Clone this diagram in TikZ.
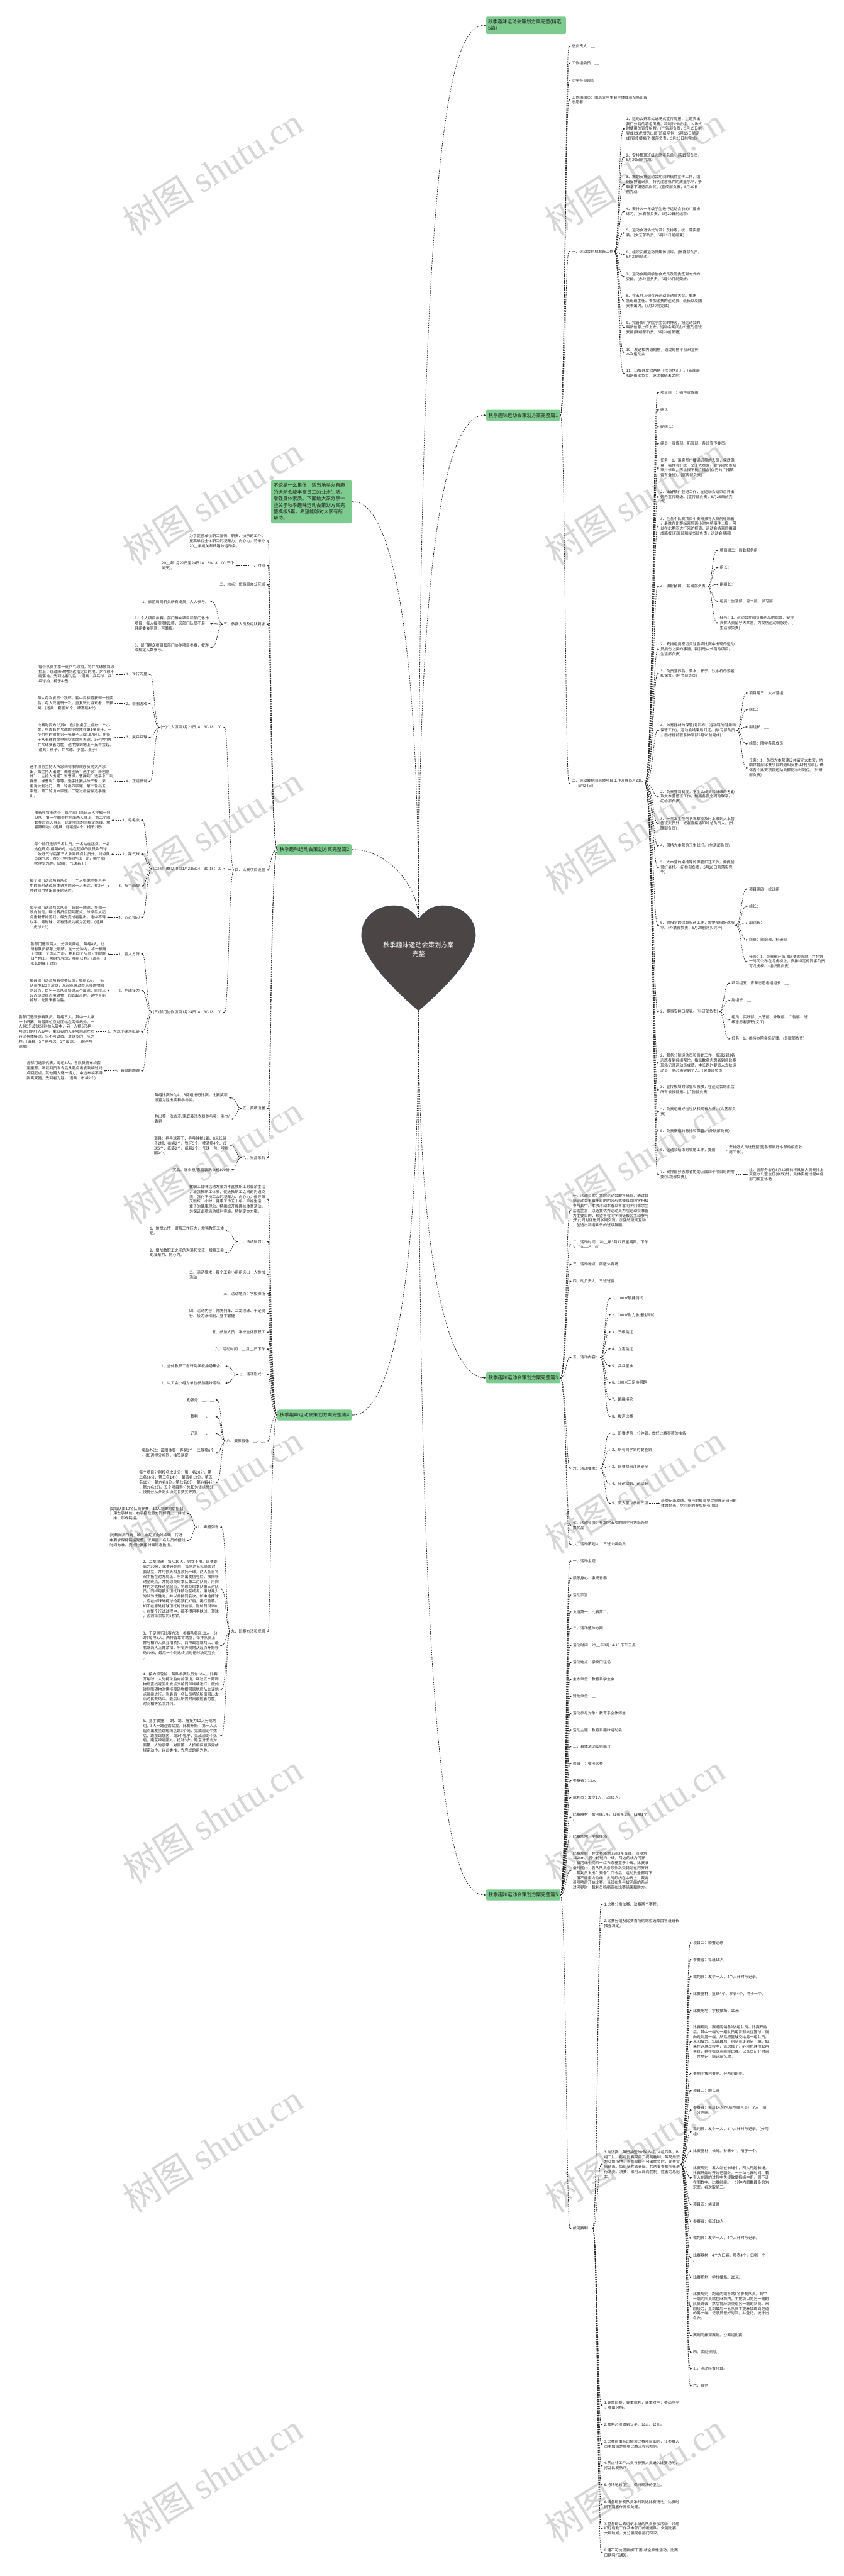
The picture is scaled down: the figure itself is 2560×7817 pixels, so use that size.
\documentclass[tikz,border=0pt]{standalone}
\usepackage{fontspec}
\setmainfont{Noto Sans CJK SC}
\newfontfamily\wmfont{Liberation Serif}
\usetikzlibrary{arrows.meta}
\definecolor{gfill}{HTML}{7DCB8F}
\definecolor{lc}{HTML}{2A2A2A}
\definecolor{heartc}{HTML}{4B4546}
\definecolor{heartl}{HTML}{3A4F7A}
\tikzset{
 txt/.style={font=\fontsize{11.5}{14.9}\selectfont, text=black!85, align=left, inner xsep=3pt, inner ysep=1pt},
 rt/.style={txt, anchor=west},
 lt/.style={txt, anchor=east},
 gbox/.style={fill=gfill, rounded corners=4pt, font=\fontsize{14.5}{19}\selectfont, text=black!88, inner xsep=7pt, inner ysep=3pt, minimum height=33pt},
 conn/.style={draw=lc, line width=1.5pt, dash pattern=on 4pt off 3pt, -{Latex[length=6pt,width=5pt]}},
 wm/.style={rotate=32, text=black!16, font=\fontsize{110}{110}\selectfont},
}
\newcommand\RCon[3]{\draw[conn] (#1.east) .. controls (#1.east -| #3,0) and (#2.west -| #3,0) .. (#2.west);}
\newcommand\LCon[3]{\draw[conn] (#1.west) .. controls (#1.west -| #3,0) and (#2.east -| #3,0) .. (#2.east);}
\begin{document}
\begin{tikzpicture}[x=1pt,y=-1pt]
\fill[white] (0,0) rectangle (2560,7817);
\useasboundingbox (0,0) rectangle (2560,7817);
% watermarks
\foreach \yy in {520,1520,...,7520}{
 \node[wm] at (645,\yy) {树图 {\wmfont shutu.cn}};
 \node[wm] at (1926,\yy) {树图 {\wmfont shutu.cn}};
}
% heart
\filldraw[fill=heartc, draw=heartl, line width=0.8pt] (1270,2790) .. controls (1255,2770) and (1235,2748) .. (1196,2748) .. controls (1140,2748) and (1097,2785) .. (1097,2838) .. controls (1097,2900) and (1180,2990) .. (1270,3067) .. controls (1360,2990) and (1443,2900) .. (1443,2838) .. controls (1443,2785) and (1400,2748) .. (1344,2748) .. controls (1305,2748) and (1285,2770) .. (1270,2790) -- cycle;
\node[font=\fontsize{19.5}{26}\selectfont, text=white, align=center] (center) at (1270,2881) {秋季趣味运动会策划方案\\完整};
\coordinate (htop) at (1270,2788);
\coordinate (hbot) at (1270,3067);

% main green nodes
\node[gbox, anchor=north west, text width=230pt, align=left, minimum height=53pt, inner xsep=6pt] (title) at (1475,50) {秋季趣味运动会策划方案完整(精选\\5篇)};
\node[gbox, anchor=west] (p1) at (1475,1260) {秋季趣味运动会策划方案完整篇1};
\node[gbox, anchor=north east, text width=230pt, align=left, minimum height=131pt, inner xsep=7pt, font=\fontsize{14.5}{19.9}\selectfont] (desc) at (1067,1457) {不论是什么集体，适当地举办有趣\\的运动会能丰富员工的业余生活，\\增强身体素质。下面给大家分享一\\些关于秋季趣味运动会策划方案完\\整模板5篇，希望能够对大家有所\\帮助。};
\node[gbox, anchor=east] (p2) at (1067,2578) {秋季趣味运动会策划方案完整篇2};
\node[gbox, anchor=west] (p3) at (1475,4181) {秋季趣味运动会策划方案完整篇3};
\node[gbox, anchor=east] (p4) at (1067,4294) {秋季趣味运动会策划方案完整篇4};
\node[gbox, anchor=west] (p5) at (1475,5750) {秋季趣味运动会策划方案完整篇5};

\draw[conn] (htop) .. controls (1270,377) and (1370,77) .. (title.west);
\draw[conn] (htop) .. controls (1270,1560) and (1370,1260) .. (p1.west);
\draw[conn] (htop) .. controls (1270,1821) and (1170,1521) .. (desc.east);
\draw[conn] (htop) .. controls (1270,2683) and (1170,2578) .. (p2.east);
\draw[conn] (hbot) .. controls (1270,3880) and (1370,4181) .. (p3.west);
\draw[conn] (hbot) .. controls (1270,3994) and (1170,4294) .. (p4.east);
\draw[conn] (hbot) .. controls (1270,5450) and (1370,5750) .. (p5.west);

% ===== 篇1 =====
\node[rt] (a1) at (1732,141) {总负责人：\_\_};
\node[rt] (a2) at (1732,192) {工作组委员：\_\_};
\node[rt] (a3) at (1732,244) {团学各部部长};
\node[rt] (a4) at (1732,303) {工作组组员：团总支学生会全体成员及各班级\\志愿者};
\node[rt] (a5) at (1732,763) {一、运动会前期准备工作};
\node[rt] (a6) at (1732,2377) {二、运动会期间具体项目工作开展(5月23日\\——5月24日)};
\foreach \c in {a1,a2,a3,a4,a5,a6}{\RCon{p1}{\c}{1715}}

\node[rt] (b1) at (1897,391) {1、运动会开幕式进场式宣传海报，主题突出\\我们分院的特色风格。和制作卡纸组，入场式\\时使用的宣传抬牌。(广告部负责，5月15日前\\完成)龙虎榜的出版(班级承包，5月15日前完\\成)宣传横幅(外联部负责，5月20日前完成)};
\node[rt] (b2) at (1897,479) {2、安排整理班级志愿者名单。(实践部负责，\\5月20日前完成)};
\node[rt] (b3) at (1897,560) {3、策划安排运动会期间的稿件宣传工作，组\\织安排通讯员，特别注意稿件的质量水平，争\\取拿下道德风尚奖。(宣传部负责，5月20日\\前完成)};
\node[rt] (b4) at (1897,642) {4、安排大一年级学生进行运动会前的广播操\\练习。(体育部负责，5月20日前结束)};
\node[rt] (b5) at (1897,707) {5、运动会进场式的设计及排练，统一落实服\\装。(文艺部负责，5月22日前结束)};
\node[rt] (b6) at (1897,773) {6、组织安排运动员集体训练。(体育部负责，\\5月22前结束)};
\node[rt] (b7) at (1897,840) {7、运动会期间学生会成员及班委签到方式的\\安排。(办公室负责，5月20日前完成)};
\node[rt] (b8) at (1897,913) {8、在五月上旬召开运动员动员大会。要求：\\各班班主任、参加比赛的运动员、班长以及团\\支书出席。(5月20前完成)};
\node[rt] (b9) at (1897,994) {9、完善我们学院学生会的博客，把运动会的\\最新信息上传上去，运动会期间办公室的值班\\安排(网络部负责，5月20前部署)};
\node[rt] (b10) at (1897,1068) {10、发送校内通短信，通过短信平台来宣传\\本次运动会};
\node[rt] (b11) at (1897,1133) {11、出版并发放两期《校运快讯》，(新闻部\\和网络部负责，运动会结束之前)};
\foreach \c in {b1,b2,b3,b4,b5,b6,b7,b8,b9,b10,b11}{\RCon{a5}{\c}{1878}}

\node[rt] (c1) at (2001,1192) {项目组一：稿件宣传组};
\node[rt] (c2) at (2001,1244) {组长：\_\_};
\node[rt] (c3) at (2001,1294) {副组长：\_\_};
\node[rt] (c4) at (2001,1346) {组员：宣传部、新闻部、各班宣传委员。};
\node[rt] (c5) at (2001,1420) {任务：1、落实写广播通讯稿的人员，保质保\\量，稿件写好统一交于大本营，宣传部负责初\\审并修改，再上报学校广播台(优秀的广播稿\\留有备份)。(宣传部负责)};
\node[rt] (c6) at (2001,1508) {2、做好稿件登记工作，在运动会结束后评出\\优秀宣传班级。(宣传部负责，5月25日前完\\成)};
\node[rt] (c7) at (2001,1597) {3、在各个比赛项目中安排报导人员前往观看\\，最晚在比赛结束后两小时内将稿件上报，可\\以在此期间进行采访报道，运动会结束后编辑\\成简报(新闻部和秘书部负责，运动会期间)};
\node[rt] (c8) at (2001,1780) {4、摄影拍照。(新闻部负责)};
\node[rt] (c9) at (2001,1971) {2、安排组员密切关注各项比赛中出现的运动\\员损伤之类的事情，特别是中长跑的项目。(\\生活部负责)};
\node[rt] (c10) at (2001,2044) {3、负责营养品、茶水、杯子、饮水机的添置\\和保管。(秘书部负责)};
\node[rt] (c11) at (2001,2217) {4、体育器材的保管(号码布、运动鞋的借用和\\保管工作)，运动会结束后归还。(学习部负责\\，器材提前联系体军部5月20前完成)};
\node[rt] (c12) at (2001,2418) {2、负责签到制度，学生会成员和班级的考勤\\及大本营值班工作，加强各部之间的联系。(\\纪检部负责)};
\node[rt] (c13) at (2001,2500) {3、一旦发生任何状况都应及时上报到大本营\\值班人员处，或者直接通知给总负责人。(外\\联部负责)};
\node[rt] (c14) at (2001,2566) {4、保持大本营的卫生状况。(生活部负责)};
\node[rt] (c15) at (2001,2632) {5、大本营的桌椅等的保管归还工作，需提前\\借好桌椅。(纪检部负责，5月20日前落实完\\毕)};
\node[rt] (c16) at (2001,2808) {6、遮阳伞的保管归还工作，需提前借好遮阳\\伞。(外联部负责，5月20前落实完毕)};
\node[rt] (c17) at (2001,3069) {2、赛事安排日程表。(科研部负责)};
\node[rt] (c18) at (2001,3226) {2、服务分院运动员和后勤工作，指派2到3名\\志愿者到各组帮忙，指派数名志愿者到各比赛\\现场记录运动员成绩，中长跑时要派人去扶运\\动员，务必落实到个人。(实践部负责)};
\node[rt] (c19) at (2001,3307) {3、宣传板块的保管和搬放，在运动会结束后\\所有板报部搬。(广告部负责)};
\node[rt] (c20) at (2001,3373) {4、负责组织好啦啦队和观看人员。(文艺部负\\责)};
\node[rt] (c21) at (2001,3432) {5、负责横幅的悬挂和保管。(外联部负责)};
\node[rt] (c22) at (2001,3490) {6、运动会结束的收尾工作，提前};
\node[rt] (c23) at (2001,3564) {7、安排部分志愿者协助上面四个项目组的需\\要(实践部负责)。};
\foreach \c in {c1,c2,c3,c4,c5,c6,c7,c8,c9,c10,c11,c12,c13,c14,c15,c16,c17,c18,c19,c20,c21,c22,c23}{\RCon{a6}{\c}{1982}}

\node[rt] (d1) at (2181,1670) {项目组二：后勤服务组};
\node[rt] (d2) at (2181,1722) {组长：\_\_};
\node[rt] (d3) at (2181,1773) {副组长：\_\_};
\node[rt] (d4) at (2181,1824) {组员：生活部、秘书部、学习部};
\node[rt] (d5) at (2181,1890) {任务：1、运动会期间负责药品的保管，安排\\具体人员留守大本营，为受伤运动员服务。(\\生活部负责)};
\foreach \c in {d1,d2,d3,d4,d5}{\RCon{c8}{\c}{2161}}

\node[rt] (e1) at (2270,2103) {项目组三：大本营组};
\node[rt] (e2) at (2270,2154) {组长：\_\_};
\node[rt] (e3) at (2270,2206) {副组长：\_\_};
\node[rt] (e4) at (2270,2257) {组员：团学各部成员};
\node[rt] (e5) at (2270,2330) {任务：1、负责大本营建设并留守大本营，协\\助体育部比赛项目的通知安排工作(检录)，确\\保各个比赛项目运动员都能准时到位。(科研\\部负责)};
\foreach \c in {e1,e2,e3,e4,e5}{\RCon{c11}{\c}{2250}}

\node[rt] (f1) at (2270,2698) {项目组四：统计组};
\node[rt] (f2) at (2270,2750) {组长：\_\_};
\node[rt] (f3) at (2270,2801) {副组长：\_\_};
\node[rt] (f4) at (2270,2852) {组员：组织部、科研部};
\node[rt] (f5) at (2270,2918) {任务：1、负责统计每项比赛的结果，并在第\\一时间公布在龙虎榜上，安排特定的同学负责\\写龙虎榜。(组织部负责)};
\foreach \c in {f1,f2,f3,f4,f5}{\RCon{c16}{\c}{2250}}

\node[rt] (g1) at (2217,2984) {项目组五：青年志愿者组组长：\_\_};
\node[rt] (g2) at (2217,3036) {副组长：\_\_};
\node[rt] (g3) at (2217,3094) {组员：实践部、文艺部、外联部、广告部、班\\级志愿者(阳光义工)};
\node[rt] (g4) at (2217,3152) {任务：1、维持本院会场纪律。(外联部负责)};
\foreach \c in {g1,g2,g3,g4}{\RCon{c17}{\c}{2197}}

\node[rt] (h1) at (2209,3490) {安排好人员进行整理(各部做好本部的相应收\\尾工作)。};
\RCon{c22}{h1}{2190}
\node[rt] (h2) at (2270,3564) {注：各部务必在5月20日前将具体人员安排上\\交至办公室主任(余欣)处，具体实施过程中各\\部门相互协助};
\RCon{c23}{h2}{2252}

% ===== 篇3 =====
\node[rt] (i1) at (1735,3674) {一、活动目的：本院运动会即将来临，通过趣\\味运动会丰富多彩的内容形式使每位同学积极\\参与其中。本次活动本着以丰富同学们课余生\\活的主旨，以选拔优秀运动员为院运动会准备\\为主要目的，希望各位同学积极报名主动参与\\;于此同时促进同学间交流，加强班级间互动\\，创造出和谐欢乐的班级氛围。};
\node[rt] (i2) at (1735,3777) {二、活动时间：20\_\_年3月17日星期四，下午\\3：00——5：00};
\node[rt] (i3) at (1735,3837) {三、活动地点：西区体育场};
\node[rt] (i4) at (1735,3888) {四、动负责人：三班班委};
\node[rt] (i5) at (1735,4119) {五、活动内容：};
\node[rt] (i6) at (1735,4456) {六、活动要求：};
\node[rt] (i7) at (1735,4628) {七、活动奖项：参加完五项的同学可凭纸条兑\\换奖品};
\node[rt] (i8) at (1735,4686) {八、活动策划人：三班文娱委员};
\foreach \c in {i1,i2,i3,i4,i5,i6,i7,i8}{\RCon{p3}{\c}{1718}}

\node[rt] (j1) at (1854,3940) {1、100米敏捷测试};
\node[rt] (j2) at (1854,3990) {2、200米耐力敏捷性测试};
\node[rt] (j3) at (1854,4042) {3、三级跳远};
\node[rt] (j4) at (1854,4093) {4、立定跳远};
\node[rt] (j5) at (1854,4145) {5、乒乓至准};
\node[rt] (j6) at (1854,4196) {6、100米三足协同跑};
\node[rt] (j7) at (1854,4247) {7、跳绳接轮};
\node[rt] (j8) at (1854,4298) {8、拔河比赛};
\foreach \c in {j1,j2,j3,j4,j5,j6,j7,j8}{\RCon{i5}{\c}{1836}}

\node[rt] (k1) at (1854,4349) {1、班委提前十分钟到，做好比赛事项的准备};
\node[rt] (k2) at (1854,4400) {2、所有同学到时要签到};
\node[rt] (k3) at (1854,4451) {3、比赛期间注意安全};
\node[rt] (k4) at (1854,4503) {4、穿运动衣、运动鞋};
\node[rt] (k5) at (1854,4562) {5、没人至少参加三项};
\foreach \c in {k1,k2,k3,k4,k5}{\RCon{i6}{\c}{1836}}
\node[rt] (k6) at (2003,4562) {班委记录成绩，参与的成员要尽量展示自己的\\体育特长，尽可能的参加所有项目};
\RCon{k5}{k6}{1985}

% ===== 篇5 =====
\node[rt] (m1) at (1735,4737) {一，活动主题};
\node[rt] (m2) at (1735,4789) {娱乐身心、激扬青春};
\node[rt] (m3) at (1735,4840) {活动宗旨};
\node[rt] (m4) at (1735,4891) {友谊第一，比赛第二。};
\node[rt] (m5) at (1735,4942) {二，活动整体方案};
\node[rt] (m6) at (1735,4994) {活动时间：20\_\_年3月14-15.下午五点};
\node[rt] (m7) at (1735,5045) {活动地点：学校田径场};
\node[rt] (m8) at (1735,5096) {主办单位：教育系学生会};
\node[rt] (m9) at (1735,5148) {赞助单位：\_\_};
\node[rt] (m10) at (1735,5199) {活动参与对象：教育系全体师生};
\node[rt] (m11) at (1735,5250) {活动主题：教育系趣味运动会};
\node[rt] (m12) at (1735,5301) {三，具体活动细则简介};
\node[rt] (m13) at (1735,5352) {项目一：拔河大赛};
\node[rt] (m14) at (1735,5404) {参赛者：15人};
\node[rt] (m15) at (1735,5455) {裁判员：发令1人，记录1人。};
\node[rt] (m16) at (1735,5514) {比赛器材：拔河绳1条，红布条1条，口哨1个\\。};
\node[rt] (m17) at (1735,5572) {比赛场地：学校操场};
\node[rt] (m18) at (1735,5676) {比赛规则：在比赛场地上画3条直线，间隔为\\150cm。居中的线为中线，两边的线为河界\\，拔河绳中间系一红布条垂直于中线。比赛准\\备时间内，各队队员必须依次交错站在河界外\\，裁判员发出"预备"口令后，运动员全部蹲下\\，但不能用力拉绳，此时红线在中线上，裁判\\员鸣哨后开始比赛。当红布条与拔河绳的系点\\过河界时，裁判员鸣哨宣布比赛结束和胜方。};
\node[rt] (m19) at (1735,6762) {拔河赛制：};
\foreach \c in {m1,m2,m3,m4,m5,m6,m7,m8,m9,m10,m11,m12,m13,m14,m15,m16,m17,m18,m19}{\RCon{p5}{\c}{1718}}

\node[rt] (n1) at (1830,5779) {1.比赛分淘汰赛、决赛两个赛程。};
\node[rt] (n2) at (1830,5837) {2.比赛分组及比赛首场的站位选择由各班班长\\抽签决定。};
\node[rt] (n3) at (1830,6568) {3.淘汰赛：每班抽签分成A.B组，A组四队，B\\组三队。每组比赛采用三局两胜制，每局后双\\方交换场地。当两局即可分出胜负时，比赛宣\\告结束。每组获胜者晋级。共两支参赛队伍进\\行决赛。决赛：采用三局两胜制，胜者为总冠\\军。};
\node[rt] (n4) at (1830,7298) {1.尊重比赛，尊重裁判，尊重对手，赛出水平\\，赛出风格。};
\node[rt] (n5) at (1830,7357) {2.裁判必须做到公平、公正、公开。};
\node[rt] (n6) at (1830,7416) {3.比赛前由各班解读比赛项目细则，让参赛人\\员更加清楚各项比赛流程和规则。};
\node[rt] (n7) at (1830,7482) {4.禁止非工作人员与参赛人员进入比赛场地，\\打乱比赛秩序。};
\node[rt] (n8) at (1830,7540) {5.持场地的卫生，保持现场的卫生。};
\node[rt] (n9) at (1830,7599) {6.请各班参赛队员准时到达比赛场地，比赛时\\间不到者作弃权处理。};
\node[rt] (n10) at (1830,7673) {7.望各班认真组织本班的队员参加活动，并组\\织好后勤工作及本部门的啦啦队。文明比赛、\\文明助威，充分展现各部门风采。};
\node[rt] (n11) at (1830,7746) {8.遇不可抗因素(如下雨)或全校性活动，比赛\\日期另行通知。};
\foreach \c in {n1,n2,n3,n4,n5,n6,n7,n8,n9,n10,n11}{\RCon{m19}{\c}{1813}}

\node[rt] (o1) at (2100,5896) {项目二：螃蟹运球};
\node[rt] (o2) at (2100,5947) {参赛者：每班16人};
\node[rt] (o3) at (2100,5998) {裁判员：发令一人，4个人计时与记录。};
\node[rt] (o4) at (2100,6050) {比赛器材：篮球4个。秒表4个，哨子一个。};
\node[rt] (o5) at (2100,6101) {比赛场地：学校操场，10米};
\node[rt] (o6) at (2100,6196) {比赛规则：赛道两端各站8组队员。比赛开始\\后，其中一端的一组队员用背部夹住篮球，侧\\向走到另一端，然后把篮球交给另一组队员。\\来回接力。知道最后一组队员走到另一端。如\\果在运球过程中，篮球掉了，必须把球捡起再\\夹好，并在掉球点继续比赛。记录员记好时间\\，并登记，统计出名次。};
\node[rt] (o7) at (2100,6292) {赛制同拔河赛制。分两组比赛。};
\node[rt] (o8) at (2100,6344) {项目三：跳长绳};
\node[rt] (o9) at (2100,6403) {参赛者：每班14人(包括甩绳人员)，7人一组\\，分两组。};
\node[rt] (o10) at (2100,6469) {裁判员：发令一人，4个人计时与记录。(分两\\组)};
\node[rt] (o11) at (2100,6528) {比赛器材：长绳。秒表4个，哨子一个。};
\node[rt] (o12) at (2100,6608) {比赛规则：五人站在长绳中，两人甩起长绳。\\比赛开始时开始记圈数。一分钟比赛时间。若\\有人在跳的过程中失误致使摇绳中断，则不计\\在圈数中。比赛继续。一分钟内圈数最多的为\\冠军。名次取前三。};
\node[rt] (o13) at (2100,6689) {项目四：袋鼠跳};
\node[rt] (o14) at (2100,6740) {参赛者：每班10人};
\node[rt] (o15) at (2100,6791) {裁判员：发令一人，4个人计时与记录。};
\node[rt] (o16) at (2100,6851) {比赛器材：4个大口袋，秒表4个。口哨一个\\。};
\node[rt] (o17) at (2100,6910) {比赛场地：学校操场。20米。};
\node[rt] (o18) at (2100,6998) {比赛规则：跑道两端各站5名参赛队员。其中\\一端的队员站在麻袋内，手提袋口向另一端的\\队员跳去，然后将麻袋交给另一端的队员。来\\回接力，直到最后一名队员手提麻袋跳到跑道\\的另一端。记录员记好时间，并登记，统计出\\名次。};
\node[rt] (o19) at (2100,7087) {赛制同拔河赛制。分两组比赛。};
\node[rt] (o20) at (2100,7138) {四，奖励规则。};
\node[rt] (o21) at (2100,7188) {五，活动经费预算。};
\node[rt] (o22) at (2100,7239) {六，其他};
\foreach \c in {o1,o2,o3,o4,o5,o6,o7,o8,o9,o10,o11,o12,o13,o14,o15,o16,o17,o18,o19,o20,o21,o22}{\RCon{n3}{\c}{2084}}

% ===== 篇2 (left) =====
\node[lt] (q1) at (808,1642) {为了促使单位职工激情、职责、快乐的工作，\\提高单位全体职工的凝聚力，向心力。特举办\\20\_\_年机关年终趣味运动会。};
\node[lt] (q2) at (808,1716) {一、时间};
\node[lt] (q3) at (808,1774) {二、地点：旅游局办公区域};
\node[lt] (q4) at (808,1894) {三、参赛人员及组队要求};
\node[lt] (q5) at (808,2640) {四、比赛项目设置};
\node[lt] (q6) at (808,3363) {五、奖项设置};
\node[lt] (q7) at (808,3513) {六、物品采购};
\foreach \c in {q1,q2,q3,q4,q5,q6,q7}{\LCon{p2}{\c}{821}}

\node[lt] (r1) at (714,1716) {20\_\_年1月22日至24日14：30-18：00(三个\\半天)。};
\LCon{q2}{r1}{735}

\node[lt] (s1) at (637,1826) {1、旅游局局机关所有成员，人人参与。};
\node[lt] (s2) at (637,1892) {2、个人项目参赛，部门群众项目和部门协作\\项目，每人每项限报2项，因部门队员不足，\\经组委会同意，可兼报。};
\node[lt] (s3) at (637,1965) {3、部门群众项目和部门协作项目参赛，按游\\戏规定人数参与。};
\foreach \c in {s1,s2,s3}{\LCon{q4}{\c}{660}}

\node[lt] (t1) at (676,2208) {(一)个人项目1月22日14：30-18：00};
\node[lt] (t2) at (676,2636) {(二)部门群众项目1月23日14：30-18：00};
\node[lt] (t3) at (676,3072) {(三)部门协作项目1月24日14：30-18：00};
\foreach \c in {t1,t2,t3}{\LCon{q5}{\c}{694}}

\node[lt] (u1) at (450,2046) {1、珠行万里};
\node[lt] (u2) at (450,2135) {2、套圈游戏};
\node[lt] (u3) at (450,2238) {3、夹乒乓球};
\node[lt] (u4) at (450,2371) {4、正话反说};
\foreach \c in {u1,u2,u3,u4}{\LCon{t1}{\c}{468}}
\node[lt] (u5) at (427,2489) {1、毛毛虫};
\node[lt] (u6) at (427,2592) {2、踩气球};
\node[lt] (u7) at (427,2688) {3、指手画脚};
\node[lt] (u8) at (427,2784) {4、心心相印};
\foreach \c in {u5,u6,u7,u8}{\LCon{t2}{\c}{444}}
\node[lt] (u9) at (427,2895) {1、盲人方阵};
\node[lt] (u10) at (427,3006) {2、抱球接力};
\node[lt] (u11) at (427,3131) {3、大珠小珠落纸篓};
\node[lt] (u12) at (427,3249) {4、袋鼠跳跳跳};
\foreach \c in {u9,u10,u11,u12}{\LCon{t3}{\c}{444}}

\node[lt] (v1) at (350,2046) {每个队员手拿一支乒乓球拍，将乒乓球放到球\\拍上，绕过障碍物到达指定目的地，乒乓球不\\能落地。先到达者为胜。(道具：乒乓球、乒\\乓球拍、椅子4把)};
\node[lt] (v2) at (347,2135) {每人每次发五个铁环，套中目标将获得一份奖\\品。每人只能玩一次，重复玩此游戏者，不获\\奖。(道具：套圈10个、啤酒瓶4个)};
\node[lt] (v3) at (347,2238) {比赛时间为3分钟，在2张桌子上各放一个小\\筐，里面有乒乓球的小筐放在第1张桌子，一\\个为空的放在另一张桌子上(距离4米)，用筷\\子从有球的筐里向空的筐里夹球，3分钟内夹\\乒乓球多者为胜，途中掉到地上不允许捡起。\\(道具：筷子、乒乓球、小筐、桌子)};
\node[lt] (v4) at (347,2371) {选手须将主持人所念词句依照顺序反向大声念\\出，如主持人出题"诚信创新"选手念"新创信\\诚"，主持人出题"说曹操，曹操到"选手念"到\\操曹，操曹说"等等。选手比赛共分三轮，采\\用淘汰制进行。第一轮出四字题，第二轮出五\\字题，第三轮出六字题。三轮过后留存选手胜\\出。};
\node[lt] (v5) at (338,2489) {准备呼拉圈两个，每个部门派出三人排成一列\\纵队，第一个圈套在前面两人身上，第二个圈\\套在后两人身上，比比哪组跑完规定路线，放\\置障碍物。(道具：呼啦圈4个，椅子2把)};
\node[lt] (v6) at (337,2592) {每个部门选派三名队员，一名站在起点，一名\\站在终点(相距4米)，站在起点的队员吹气球\\，吹好气球后第三人拿到终点队员处，终点队\\员踩气球，在5分钟时间内比一比，哪个部门\\吹得多为胜。(道具：气球若干)};
\node[lt] (v7) at (324,2688) {每个部门选派两名队员，一个人根据主持人手\\中的资料透过肢体语言向另一人表达，在3分\\钟时间内猜出最多的获胜。};
\node[lt] (v8) at (324,2784) {每个部门选派两名队员，背夹一圆球，步调一\\致向前走，绕过转折点回到起点，球掉后从起\\点重新开始游戏。最先完成者胜出。途中不得\\以手、臂碰球，如有违反均视为犯规。(道具\\：皮球2个)};
\node[lt] (v9) at (326,2895) {各部门选派两人，分派到两组，每组4人，让\\所有队员都蒙上眼睛，在十分钟内，将一根绳\\子拉成一个的正方形，并且四个队员分别站在\\四个角上。哪组先完成，哪组获胜。(道具：8\\米长的绳子2根)};
\node[lt] (v10) at (324,3006) {每两部门选派两名参赛队员，每组2人，一名\\队员抱起3个皮球，从起点绕过终点障碍物回\\到起点，由另一名队员接过三个皮球，继续从\\起点绕过终点障碍物，回到起点的。途中不能\\掉球，先回来者为胜。};
\node[lt] (v11) at (290,3131) {各部门选派参赛队员，每组三人，其中一人拿\\一个纸篓，与另两位应对面站在两条线外。一\\人将5只皮球分别抛入篓中，另一人将5只乒\\乓球分别打入篓中。拿纸篓的人能够前后左右\\转动身体接球，但不可过线。进球多的一队为\\胜。(道具：5个乒乓球、5个皮球、一副乒乓\\球拍)};
\node[lt] (v12) at (314,3249) {各部门选派代表，每组3人。各队员将布袋套\\至腰部，听裁判员发令后从起点出发到绕过终\\点回起点，其他两人逐一接力，中途布袋不得\\脱离双腿，先到者为胜。(道具：布袋2个)};
\LCon{u1}{v1}{366}
\LCon{u2}{v2}{366}
\LCon{u3}{v3}{366}
\LCon{u4}{v4}{366}
\LCon{u5}{v5}{355}
\LCon{u6}{v6}{355}
\LCon{u7}{v7}{340}
\LCon{u8}{v8}{340}
\LCon{u9}{v9}{343}
\LCon{u10}{v10}{343}
\LCon{u11}{v11}{306}
\LCon{u12}{v12}{330}

\node[lt] (w1) at (694,3331) {每组比赛分为A、B两组进行比赛，比赛奖项\\设置为胜出奖和参与奖。};
\node[lt] (w2) at (700,3396) {胜出奖：洗衣液/家庭装洗衣粉参与奖：毛巾/\\香皂};
\foreach \c in {w1,w2}{\LCon{q6}{\c}{717}}
\node[lt] (w3) at (697,3477) {道具：乒乓球若干、乒乓球拍1副、8米长绳\\子2根、布袋2个、铁环5个、啤酒瓶4个、皮\\球5个、纸篓2个、纸箱2个、气球一包、呼啦\\圈2个。};
\node[lt] (w4) at (700,3550) {奖品：洗衣液/家庭装洗衣粉100份};
\foreach \c in {w3,w4}{\LCon{q7}{\c}{717}}

% ===== 篇4 (left) =====
\node[lt] (x1) at (808,3639) {教职工趣味活动方案为丰富教职工的业余生活\\，增强教职工体质，促进教职工之间的沟通交\\流，强化学校工会的凝聚力、向心力，倡导每\\天锻炼一小时，健康工作五十年，幸福生活一\\辈子的健康理念，特组织开展趣味体育活动。\\为保证此项活动顺利实施，特制定本方案。};
\node[lt] (x2) at (808,3768) {一、活动目的：};
\node[lt] (x3) at (808,3868) {二、活动要求：每个工会小组组选出十人参加\\活动};
\node[lt] (x4) at (808,3926) {三、活动地点：学校操场};
\node[lt] (x5) at (808,3985) {四、活动内容：奔腾列车、二龙顶珠、千足侧\\行、接力滚轮胎、身手敏捷};
\node[lt] (x6) at (808,4043) {五、参加人员：学校全体教职工};
\node[lt] (x7) at (808,4094) {六、活动时间：\_\_月\_\_日下午};
\node[lt] (x8) at (808,4171) {七、活动形式：};
\node[lt] (x9) at (808,4373) {八、摄影摄像：\_\_、\_\_};
\node[lt] (x10) at (808,4950) {九、比赛方法和规则};
\foreach \c in {x1,x2,x3,x4,x5,x6,x7,x8,x9,x10}{\LCon{p4}{\c}{821}}

\node[lt] (y1) at (683,3735) {1、愉悦心情，缓解工作压力，增强教职工体\\质。};
\node[lt] (y2) at (683,3801) {2、增加教职工之间的沟通和交流，增强工会\\的凝聚力、向心力。};
\foreach \c in {y1,y2}{\LCon{x2}{\c}{705}}
\node[lt] (y3) at (683,4146) {1、全体教职工自行到学校操场集合。};
\node[lt] (y4) at (683,4197) {2、以工会小组为单位参加趣味活动。};
\foreach \c in {y3,y4}{\LCon{x8}{\c}{705}}

\node[lt] (z1) at (653,4248) {勤服务：\_\_、\_\_};
\node[lt] (z2) at (653,4299) {裁判：\_\_、\_\_};
\node[lt] (z3) at (653,4350) {记录：\_\_、\_\_};
\node[lt] (z4) at (653,4409) {奖励办法：设团体奖一等奖3个，二等奖6个\\。(如遇得分相同，抽签决定)};
\node[lt] (z5) at (653,4498) {每个项目分别按名次计分：第一名20分，第\\二名16分，第三名14分，第四名12分，第五\\名10分，第六名8分，第七名6分，第八名4分\\，第九名2分。五个项目得分总和为该组总分\\。按得分从多到少决定名获奖等第。};
\foreach \c in {z1,z2,z3,z4,z5}{\LCon{x9}{\c}{671}}

\node[lt] (aa1) at (667,4634) {1、奔腾列车};
\node[lt] (aa2) at (667,4822) {2、二龙顶珠：每队10人，男女不限。比赛距\\离为30米，比赛开始前，每队两名队员面对\\面站立，并用额头相互顶托一球，两人各自将\\双手搭在对方肩上。听到出发信号后，横向移\\动至终点，并将球交给本队第二对队员，用同\\样的方式移动至起点，将球交给本队第三对队\\员，同样用额头顶托球移动至终点。用时最少\\的队为优胜对，并以此排列名次。如中途掉球\\，应在掉球处将球捡起顶托好后，再行前移。\\如不在原处将球顶托好就前移，则加罚5秒钟\\。在整个行进过程中，都不得用手扶球、顶球\\，否则每次加罚5秒钟。};
\node[lt] (aa3) at (667,4993) {3、千足侧行比赛方法：参赛队每队10人，分\\2排每排5人。两排背靠背站立，每排队员上\\臂与相邻人员互相紧扣，两排最左端两人、最\\右端两人上臂紧扣，听令声侧向从起点开始移\\动30米，最后一个到达终点时记时决定胜负\\。};
\node[lt] (aa4) at (667,5126) {4、接力滚轮胎：每队参赛队员为10人，比赛\\开始时一人先将轮胎向前滚出，绕过五个障碍\\物后直线返回出发点交给同伴继续进行，假如\\碰到障碍物时需将障碍物摆回原地后从失误地\\点继续进行，当最后一名队员将轮胎滚回出发\\点时比赛结束。最后以所需时间最短者为胜，\\时间相等名次并列。};
\node[lt] (aa5) at (667,5267) {5、身手敏捷——跳、踢、扭接力10人分成两\\组，5人一路迎面站立。比赛开始，第一人从\\起点出发至跳短绳区跳3个绳，完成规定个数\\后，跑至踢毽区，踢3个毽子，完成规定个数\\后，跑至呼啦圈处，扭动3次，跑至对面击对\\面第一人的手掌，对面第一人按相反顺序完成\\规定动作，以此类推，先完成的组为胜。};
\foreach \c in {aa1,aa2,aa3,aa4,aa5}{\LCon{x10}{\c}{686}}

\node[lt] (ab1) at (566,4593) {(1)每队由10名队员参赛，10人左脚向后抬起\\，用左手扶住，右手搭在前方同伴肩上，排成\\一排，形成链接。};
\node[lt] (ab2) at (566,4674) {(2)裁判员口哨一响，由起点向终点跳，行进\\中要求保持链接完整，以最后一名队员的撞线\\时间为准。完成比赛用时最短者胜出。};
\foreach \c in {ab1,ab2}{\LCon{aa1}{\c}{585}}
\end{tikzpicture}
\end{document}
